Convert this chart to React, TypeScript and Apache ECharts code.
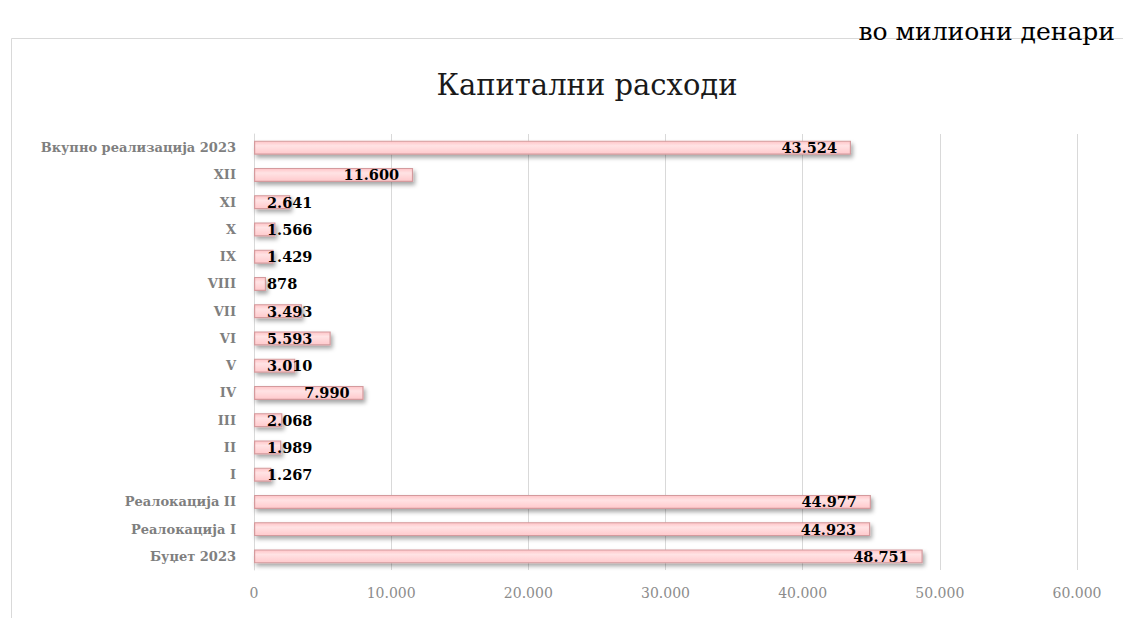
import React, { useEffect, useRef } from "react";
import * as echarts from "echarts";

const categories = [
  "Буџет 2023",
  "Реалокација I",
  "Реалокација II",
  "I",
  "II",
  "III",
  "IV",
  "V",
  "VI",
  "VII",
  "VIII",
  "IX",
  "X",
  "XI",
  "XII",
  "Вкупно реализација 2023",
];
const values = [48751, 44923, 44977, 1267, 1989, 2068, 7990, 3010, 5593, 3493, 878, 1429, 1566, 2641, 11600, 43524];
const xTicks = [0, 10000, 20000, 30000, 40000, 50000, 60000];

const fmt = (v: number) => String(Math.round(v)).replace(/\B(?=(\d{3})+(?!\d))/g, ".");

export default function App() {
  const ref = useRef<HTMLDivElement>(null);
  useEffect(() => {
    document.body.style.margin = "0";
    const chart = echarts.init(ref.current!, null, { renderer: "svg" });
    const data = values.map((v) => ({
      value: v,
      label: v > 7000
        ? { position: "insideRight", distance: 14 }
        : { position: "insideLeft", distance: 13 },
    }));
    chart.setOption({
      animation: false,
      backgroundColor: "#ffffff",
      graphic: [
        { type: "line", shape: { x1: 11.5, y1: 38.5, x2: 1123, y2: 38.5 }, style: { stroke: "#d9d9d9", lineWidth: 1 } },
        { type: "line", shape: { x1: 11.5, y1: 38.5, x2: 11.5, y2: 618 }, style: { stroke: "#d9d9d9", lineWidth: 1 } },
        {
          type: "text",
          x: 1115,
          y: 31,
          style: { text: "во милиони денари", font: "25px 'DejaVu Serif'", fill: "#000000", textAlign: "right", textVerticalAlign: "middle" },
        },
        {
          type: "text",
          x: 587,
          y: 85,
          style: { text: "Капитални расходи", font: "29px 'DejaVu Serif'", fill: "#1a1a1a", textAlign: "center", textVerticalAlign: "middle" },
        },
      ],
      grid: { left: 254, right: 46, top: 134, bottom: 48, containLabel: false },
      xAxis: {
        type: "value",
        min: 0,
        max: 60000,
        interval: 10000,
        axisLine: { show: false },
        axisTick: { show: false },
        splitLine: { show: true, lineStyle: { color: "#d9d9d9", width: 1 } },
        axisLabel: {
          formatter: (v: number) => (xTicks.includes(v) ? fmt(v) : ""),
          color: "#8c8c8c",
          fontFamily: "DejaVu Serif",
          fontSize: 14,
          margin: 16,
        },
      },
      yAxis: {
        type: "category",
        data: categories,
        axisLine: { show: true, lineStyle: { color: "#d9d9d9" } },
        axisTick: { show: false },
        axisLabel: {
          color: "#7f7f7f",
          fontFamily: "DejaVu Serif",
          fontWeight: "bold",
          fontSize: 13,
          margin: 18,
        },
      },
      series: [
        {
          type: "bar",
          data,
          barWidth: 14,
          itemStyle: {
            color: new echarts.graphic.LinearGradient(0, 0, 0, 1, [
              { offset: 0, color: "#ffc4c7" },
              { offset: 0.35, color: "#ffe3e4" },
              { offset: 1, color: "#ffc9cc" },
            ]),
            borderColor: "#d49a9d",
            borderWidth: 1.2,
            shadowColor: "rgba(0,0,0,0.35)",
            shadowBlur: 4,
            shadowOffsetX: 2,
            shadowOffsetY: 3,
          },
          label: {
            show: true,
            formatter: (p: any) => fmt(p.value),
            color: "#000000",
            fontFamily: "DejaVu Serif",
            fontWeight: "bold",
            fontSize: 14.5,
          },
        },
      ],
    });
    return () => chart.dispose();
  }, []);
  return <div ref={ref} style={{ width: 1123, height: 618 }} />;
}
